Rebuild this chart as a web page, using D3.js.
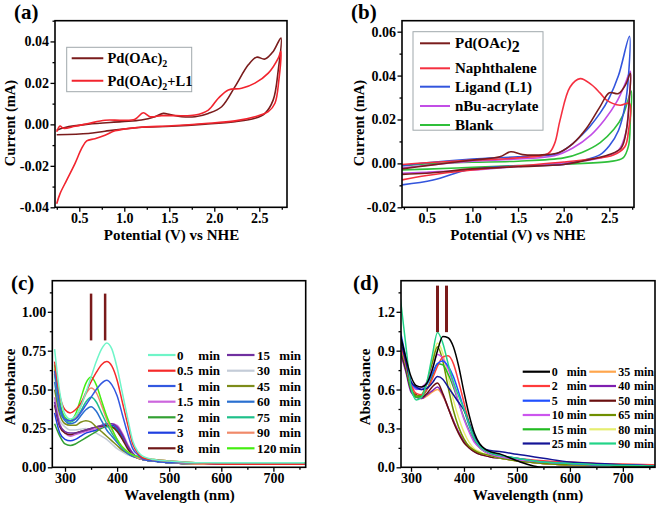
<!DOCTYPE html>
<html><head><meta charset="utf-8">
<script src="https://cdn.jsdelivr.net/npm/d3@7"></script>
<style>
body{margin:0;background:#fff}
svg{display:block}
text{font-family:"Liberation Serif","Times New Roman",serif;font-weight:bold;fill:#000}
</style>
</head><body>
<svg id="chart" width="657" height="508"></svg>
<script>
// ---------- Panel (a): cyclic voltammetry ----------
const aPd = [[0.249,-0.0028],[0.341,-0.0015],[0.6,0.0001],[0.971,0.0013],[1.19,0.0021],[1.341,0.0037],[1.434,0.0053],[1.508,0.0047],[1.637,0.0037],[1.786,0.0037],[1.934,0.0053],[2.082,0.0085],[2.23,0.0182],[2.378,0.0287],[2.47,0.0324],[2.563,0.0315],[2.655,0.0352],[2.74,0.0416],[2.711,0.0263],[2.655,0.0118],[2.563,0.0053],[2.452,0.0029],[2.23,0.0013],[1.897,0.0001],[1.526,-0.0009],[1.156,-0.0015],[0.785,-0.0033],[0.6,-0.0044],[0.249,-0.005]];
const aPdL1 = [[0.249,-0.0036],[0.286,-0.0008],[0.323,-0.0019],[0.453,-0.0009],[0.6,0.0004],[0.786,0.002],[0.971,0.002],[1.119,0.0025],[1.211,0.0056],[1.286,0.0037],[1.415,0.0042],[1.563,0.0042],[1.786,0.0045],[1.934,0.0069],[2.045,0.0126],[2.156,0.0166],[2.304,0.0174],[2.452,0.0199],[2.6,0.0247],[2.711,0.032],[2.74,0.0352],[2.718,0.0215],[2.674,0.0102],[2.6,0.0061],[2.452,0.0037],[2.23,0.0017],[1.897,0.0004],[1.526,-0.0007],[1.156,-0.0015],[0.897,-0.0031],[0.786,-0.0052],[0.674,-0.0069],[0.582,-0.008],[0.526,-0.0116],[0.453,-0.0188],[0.36,-0.0269],[0.286,-0.0334],[0.249,-0.0383]];
const aLabels = ["Pd(OAc)|2|", "Pd(OAc)|2|+L1"];
const aColors = ["#7a1c1c", "#f2242e"];

// ---------- Panel (b): cyclic voltammetry ----------
const bPd = [[0.23,-0.0025],[0.5,-0.001],[1.0,0.0015],[1.3,0.003],[1.42,0.0053],[1.55,0.004],[1.8,0.004],[1.95,0.005],[2.1,0.009],[2.25,0.016],[2.4,0.026],[2.5,0.0322],[2.6,0.0318],[2.68,0.036],[2.73,0.041],[2.72,0.03],[2.69,0.016],[2.63,0.007],[2.5,0.004],[2.2,0.001],[2.0,-0.0005],[1.5,-0.0015],[1.0,-0.0025],[0.5,-0.0045],[0.23,-0.005]];
const bNaph = [[0.23,-0.0005],[0.5,0.0003],[1.0,0.0015],[1.5,0.0025],[1.83,0.0045],[1.9,0.009],[1.96,0.0197],[2.07,0.0348],[2.18,0.0386],[2.3,0.036],[2.4,0.032],[2.47,0.0288],[2.617,0.0265],[2.72,0.0273],[2.71,0.015],[2.67,0.0076],[2.544,0.0038],[2.3,0.002],[2.0,0.0006],[1.5,-0.0012],[1.0,-0.003],[0.5,-0.0055],[0.23,-0.0075]];
const bLig = [[0.23,-0.001],[0.5,0.0003],[1.0,0.002],[1.5,0.003],[1.9,0.0042],[2.0,0.006],[2.1,0.009],[2.2,0.013],[2.28,0.0165],[2.4,0.023],[2.5,0.03],[2.6,0.04],[2.72,0.0579],[2.71,0.04],[2.67,0.026],[2.6,0.015],[2.5,0.008],[2.4,0.004],[2.2,0.0012],[2.0,-0.0005],[1.5,-0.0012],[1.2,-0.0018],[0.94,-0.003],[0.57,-0.0076],[0.23,-0.0098]];
const bAcr = [[0.23,-0.002],[0.6,-0.0005],[1.0,0.001],[1.5,0.002],[1.9,0.0035],[2.1,0.007],[2.3,0.013],[2.45,0.02],[2.58,0.028],[2.67,0.036],[2.73,0.042],[2.715,0.028],[2.68,0.014],[2.6,0.006],[2.4,0.0025],[2.0,0.0002],[1.5,-0.0014],[1.0,-0.003],[0.5,-0.004],[0.23,-0.0045]];
const bBlank = [[0.23,-0.001],[0.6,0],[1.0,0.0005],[1.5,0.001],[2.0,0.0025],[2.2,0.005],[2.4,0.0095],[2.55,0.0155],[2.65,0.022],[2.74,0.033],[2.73,0.02],[2.71,0.008],[2.65,0.0025],[2.5,0.0008],[2.0,-0.0003],[1.5,-0.001],[1.0,-0.0018],[0.5,-0.0026],[0.23,-0.003]];
const bLabels = ["Pd(OAc)2", "Naphthalene", "Ligand (L1)", "nBu-acrylate", "Blank"];
const bColors = ["#7a1c1c", "#f53040", "#3355dd", "#c24ee6", "#2fbf3a"];

// ---------- Panels (c), (d): UV-vis spectra ----------
const wl = [280,290,300,310,320,330,340,350,360,370,380,390,400,410,420,430,440,450,470,500,550,600,650,700,760];

const c0   = [0.76,0.48,0.34,0.31,0.33,0.39,0.48,0.58,0.68,0.76,0.80,0.76,0.64,0.48,0.32,0.17,0.10,0.07,0.05,0.04,0.03,0.03,0.03,0.03,0.03];
const c05  = [0.68,0.46,0.37,0.35,0.37,0.41,0.48,0.55,0.61,0.66,0.68,0.65,0.56,0.42,0.28,0.15,0.09,0.06,0.05,0.04,0.03,0.02,0.02,0.02,0.02];
const c1   = [0.62,0.40,0.31,0.30,0.31,0.35,0.40,0.45,0.50,0.54,0.56,0.53,0.46,0.34,0.22,0.12,0.08,0.05,0.04,0.03,0.03,0.02,0.02,0.02,0.02];
const c15  = [0.45,0.28,0.22,0.20,0.21,0.22,0.23,0.24,0.25,0.26,0.275,0.28,0.27,0.22,0.15,0.09,0.06,0.05,0.04,0.03,0.02,0.02,0.02,0.02,0.02];
const c2   = [0.28,0.20,0.15,0.14,0.15,0.17,0.19,0.21,0.23,0.25,0.26,0.26,0.24,0.19,0.13,0.08,0.06,0.05,0.04,0.03,0.03,0.03,0.03,0.03,0.03];
const c3   = [0.35,0.22,0.18,0.17,0.18,0.20,0.22,0.23,0.24,0.26,0.27,0.27,0.25,0.20,0.14,0.09,0.06,0.05,0.04,0.03,0.02,0.02,0.02,0.02,0.02];
const c8   = [0.40,0.26,0.22,0.21,0.22,0.23,0.24,0.25,0.26,0.265,0.27,0.26,0.23,0.18,0.12,0.08,0.06,0.05,0.04,0.03,0.02,0.02,0.02,0.02,0.02];
const c15m = [0.42,0.27,0.23,0.22,0.22,0.23,0.24,0.25,0.26,0.27,0.28,0.28,0.26,0.21,0.14,0.09,0.06,0.05,0.04,0.03,0.02,0.02,0.02,0.02,0.02];
const c30  = [0.45,0.30,0.26,0.24,0.24,0.245,0.25,0.24,0.22,0.20,0.18,0.15,0.12,0.10,0.08,0.07,0.06,0.05,0.04,0.03,0.02,0.02,0.02,0.02,0.02];
const c45  = [0.50,0.34,0.28,0.27,0.27,0.29,0.30,0.29,0.26,0.23,0.20,0.17,0.14,0.11,0.09,0.07,0.06,0.05,0.04,0.03,0.02,0.02,0.02,0.02,0.02];
const c60  = [0.55,0.36,0.30,0.28,0.29,0.33,0.37,0.39,0.36,0.30,0.24,0.20,0.16,0.12,0.09,0.07,0.06,0.05,0.04,0.03,0.02,0.02,0.02,0.02,0.02];
const c75  = [0.60,0.38,0.31,0.29,0.31,0.36,0.42,0.45,0.42,0.35,0.28,0.22,0.17,0.13,0.10,0.08,0.06,0.05,0.04,0.03,0.02,0.02,0.02,0.02,0.02];
const c90  = [0.63,0.40,0.32,0.30,0.32,0.39,0.47,0.51,0.48,0.40,0.31,0.24,0.18,0.13,0.10,0.08,0.06,0.05,0.04,0.03,0.02,0.02,0.02,0.02,0.02];
const c120 = [0.66,0.42,0.32,0.30,0.34,0.44,0.54,0.58,0.53,0.43,0.33,0.25,0.18,0.13,0.10,0.08,0.07,0.06,0.05,0.04,0.03,0.03,0.03,0.03,0.03];
const cTimes  = ["0","0.5","1","1.5","2","3","8","15","30","45","60","75","90","120"];
const cColors = ["#6ff5c8","#f52a2a","#3358e0","#cc66dd","#33a033","#1f3fe0","#701818","#7030a0","#c4ccd8","#7d8c1a","#2a70d0","#1fc08a","#f08a6a","#44ee11"];

const d0  = [1.02,0.85,0.70,0.63,0.62,0.65,0.75,0.90,1.01,1.00,0.93,0.78,0.58,0.40,0.26,0.18,0.14,0.12,0.10,0.05,0.0,0.0,0.0,0.0,0.0];
const d2  = [0.95,0.80,0.64,0.57,0.56,0.60,0.68,0.78,0.85,0.86,0.80,0.66,0.50,0.34,0.22,0.16,0.13,0.11,0.09,0.07,0.05,0.04,0.03,0.025,0.02];
const d5  = [1.05,0.85,0.66,0.61,0.60,0.64,0.72,0.80,0.82,0.78,0.70,0.58,0.45,0.32,0.22,0.16,0.13,0.11,0.09,0.07,0.04,0.03,0.02,0.02,0.01];
const d10 = [0.95,0.80,0.65,0.60,0.62,0.66,0.76,0.87,0.84,0.76,0.64,0.50,0.37,0.27,0.19,0.15,0.12,0.10,0.08,0.06,0.04,0.03,0.02,0.02,0.015];
const d15 = [0.92,0.78,0.60,0.54,0.55,0.60,0.70,0.80,0.79,0.72,0.62,0.50,0.38,0.28,0.20,0.15,0.12,0.10,0.08,0.06,0.04,0.03,0.02,0.02,0.01];
const d25 = [0.98,0.82,0.66,0.62,0.60,0.61,0.65,0.70,0.68,0.62,0.56,0.50,0.44,0.34,0.24,0.17,0.14,0.13,0.12,0.10,0.07,0.04,0.03,0.02,0.01];
const d35 = [0.90,0.75,0.60,0.55,0.53,0.55,0.58,0.60,0.55,0.46,0.36,0.27,0.21,0.16,0.13,0.11,0.10,0.09,0.07,0.05,0.03,0.02,0.02,0.01,0.01];
const d40 = [0.88,0.74,0.58,0.54,0.53,0.56,0.59,0.62,0.56,0.46,0.36,0.27,0.20,0.15,0.12,0.10,0.09,0.08,0.07,0.05,0.03,0.02,0.02,0.01,0.01];
const d50 = [0.90,0.76,0.60,0.56,0.54,0.57,0.62,0.65,0.57,0.46,0.35,0.26,0.19,0.15,0.12,0.10,0.09,0.08,0.07,0.05,0.03,0.02,0.02,0.01,0.01];
const d65 = [0.95,0.80,0.62,0.55,0.56,0.65,0.80,0.93,0.82,0.62,0.44,0.31,0.22,0.16,0.13,0.11,0.10,0.09,0.07,0.05,0.03,0.02,0.02,0.01,0.01];
const d80 = [0.95,0.80,0.62,0.55,0.56,0.66,0.82,0.96,0.88,0.70,0.52,0.38,0.27,0.19,0.14,0.12,0.10,0.09,0.07,0.05,0.03,0.02,0.02,0.01,0.01];
const d90 = [1.30,0.95,0.62,0.52,0.54,0.66,0.86,1.04,0.96,0.80,0.66,0.55,0.45,0.33,0.22,0.16,0.13,0.11,0.09,0.07,0.04,0.03,0.02,0.015,0.01];
const dTimes  = ["0","2","5","10","15","25","35","40","50","65","80","90"];
const dColors = ["#000000","#ff3b3b","#2050ff","#cc55ee","#22bb22","#141496","#ffa64d","#7f1fb0","#6a0f0f","#6f8f00","#e6ee70","#22d488"];

// marker wavelengths
const cMarks = [350, 377];
const dMarks = [350, 367];

// tick values
const cvXTicks = [0.5,1.0,1.5,2.0,2.5];
const cvXMinor = [0.25,0.75,1.25,1.75,2.25,2.75];
const aYTicks = [-0.04,-0.02,0,0.02,0.04];
const aYMinor = [-0.03,-0.01,0.01,0.03,0.05];
const bYTicks = [-0.02,0,0.02,0.04,0.06];
const bYMinor = [-0.01,0.01,0.03,0.05];
const uvXTicks = [300,400,500,600,700];
const uvXMinor = [350,450,550,650,750];
const cYTicks = [0,0.25,0.5,0.75,1.0];
const cYMinor = [0.125,0.375,0.625,0.875,1.125];
const dYTicks = [0,0.3,0.6,0.9,1.2];
const dYMinor = [0.15,0.45,0.75,1.05,1.35];

// ---------- drawing ----------
const svg = d3.select("#chart");

function makePanel(p){
  const x = d3.scaleLinear().domain(p.xd).range([p.x0, p.x1]);
  const y = d3.scaleLinear().domain(p.yd).range([p.y1, p.y0]);
  svg.append("clipPath").attr("id","clip"+p.name)
    .append("rect").attr("x",p.x0).attr("y",p.y0).attr("width",p.x1-p.x0).attr("height",p.y1-p.y0);
  const g = svg.append("g");
  const style = s => { s.select(".domain").remove(); s.selectAll("line").attr("stroke","#000").attr("stroke-width",1.3); s.attr("font-size",14); };
  g.append("g").attr("transform",`translate(0,${p.y1})`)
    .call(d3.axisBottom(x).tickValues(p.xMinor.filter(v=>v>=p.xd[0]&&v<=p.xd[1])).tickSize(2.5).tickFormat("")).call(style);
  g.append("g").attr("transform",`translate(0,${p.y1})`)
    .call(d3.axisBottom(x).tickValues(p.xTicks).tickSize(4.5).tickPadding(1.5).tickFormat(p.xFmt)).call(style);
  g.append("g").attr("transform",`translate(${p.x0},0)`)
    .call(d3.axisLeft(y).tickValues(p.yMinor.filter(v=>v>=p.yd[0]&&v<=p.yd[1])).tickSize(2.5).tickFormat("")).call(style);
  g.append("g").attr("transform",`translate(${p.x0},0)`)
    .call(d3.axisLeft(y).tickValues(p.yTicks).tickSize(4.5).tickPadding(1.5).tickFormat(p.yFmt)).call(style);
  const plot = g.append("g").attr("clip-path",`url(#clip${p.name})`);
  const over = g.append("g");
  g.append("rect").attr("x",p.x0).attr("y",p.y0).attr("width",p.x1-p.x0).attr("height",p.y1-p.y0)
    .attr("fill","none").attr("stroke","#000").attr("stroke-width",1.6);
  // titles
  g.append("text").attr("x",p.lx).attr("y",p.ly).attr("font-size",21).text(p.label);
  g.append("text").attr("x",(p.xtx)).attr("y",p.xty).attr("text-anchor","middle").attr("font-size",15).text(p.xTitle);
  g.append("text").attr("transform",`translate(${p.ytx},${p.yty}) rotate(-90)`).attr("text-anchor","middle").attr("font-size",p.ytSize||15).text(p.yTitle);
  return {x, y, plot, over, g};
}

const f2 = v => v.toFixed(2), f1 = v => v.toFixed(1), f0 = v => String(v);

// Panel a
const A = makePanel({name:"a", x0:55, x1:287, y0:20.7, y1:207.3, xd:[0.23,2.808], yd:[-0.04,0.05],
  xTicks:cvXTicks, xMinor:cvXMinor, yTicks:aYTicks, yMinor:aYMinor, xFmt:f1, yFmt:f2,
  label:"(a)", lx:14, ly:19, xTitle:"Potential (V) vs NHE", xtx:171.5, xty:240,
  yTitle:"Current (mA)", ytx:15, yty:123, ytSize:14.5});
const cvLine = (P) => d3.line().x(d=>P.x(d[0])).y(d=>P.y(d[1])).curve(d3.curveCatmullRom.alpha(0.5));
[aPd, aPdL1].forEach((s,i)=>{
  A.plot.append("path").attr("d",cvLine(A)(s)).attr("fill","none").attr("stroke",aColors[i]).attr("stroke-width",1.6);
});
// legend a
A.g.append("rect").attr("x",66.7).attr("y",47.3).attr("width",125).attr("height",44.4)
  .attr("fill","#fff").attr("stroke","#a0a8ac").attr("stroke-width",1);
aLabels.forEach((lab,i)=>{
  const yy = 58.3 + i*22.4;
  A.g.append("line").attr("x1",71.7).attr("x2",103.3).attr("y1",yy).attr("y2",yy).attr("stroke",aColors[i]).attr("stroke-width",2);
  const parts = lab.split("|");
  const t = A.g.append("text").attr("x",107.5).attr("y",yy+5).attr("font-size",14.5);
  t.append("tspan").text(parts[0]);
  t.append("tspan").attr("font-size",10).attr("dy",4).text(parts[1]);
  if (parts[2]) t.append("tspan").attr("dy",-4).text(parts[2]);
});

// Panel b
const B = makePanel({name:"b", x0:402, x1:634, y0:20.7, y1:207.3, xd:[0.229,2.77], yd:[-0.02,0.065],
  xTicks:cvXTicks, xMinor:cvXMinor, yTicks:bYTicks, yMinor:bYMinor, xFmt:f1, yFmt:f2,
  label:"(b)", lx:351, ly:19, xTitle:"Potential (V) vs NHE", xtx:518, xty:240,
  yTitle:"Current (mA)", ytx:364, yty:123, ytSize:14.5});
const bSeries = [bBlank, bAcr, bLig, bNaph, bPd];
const bIdx = [4,3,2,1,0];
bSeries.forEach((s,k)=>{
  B.plot.append("path").attr("d",cvLine(B)(s)).attr("fill","none").attr("stroke",bColors[bIdx[k]]).attr("stroke-width",1.6);
});
B.g.append("rect").attr("x",413).attr("y",31.7).attr("width",130).attr("height",98.5)
  .attr("fill","#fff").attr("stroke","#a0a8ac").attr("stroke-width",1);
const bRows = [43.3, 68.3, 86.7, 106, 125];
bLabels.forEach((lab,i)=>{
  const yy = bRows[i];
  B.g.append("line").attr("x1",420).attr("x2",450).attr("y1",yy).attr("y2",yy).attr("stroke",bColors[i]).attr("stroke-width",2);
  const t = B.g.append("text").attr("x",455).attr("y",yy+5).attr("font-size",15);
  if (i===0){ t.append("tspan").text("Pd(OAc)"); t.append("tspan").attr("dy",4).attr("font-size",16).text("2"); }
  else t.text(lab);
});

// Panel c
const C = makePanel({name:"c", x0:52.3, x1:305.7, y0:280.7, y1:467.3, xd:[275.6,762], yd:[0,1.2],
  xTicks:uvXTicks, xMinor:uvXMinor, yTicks:cYTicks, yMinor:cYMinor, xFmt:f0, yFmt:f2,
  label:"(c)", lx:11, ly:290, xTitle:"Wavelength (nm)", xtx:179.5, xty:500,
  yTitle:"Absorbance", ytx:15, yty:387});
const specLine = (P) => d3.line().x(d=>P.x(d[0])).y(d=>P.y(d[1])).curve(d3.curveMonotoneX);
const cSeries = [c0,c05,c1,c15,c2,c3,c8,c15m,c30,c45,c60,c75,c90,c120];
const cOrder = [8,4,5,3,6,7,9,10,11,12,13,2,1,0];
cOrder.forEach(i=>{
  const pts = wl.map((w,j)=>[w,cSeries[i][j]]);
  C.plot.append("path").attr("d",specLine(C)(pts)).attr("fill","none").attr("stroke",cColors[i]).attr("stroke-width",1.5);
});
cMarks.forEach(m=>{
  C.over.append("line").attr("x1",C.x(m)).attr("x2",C.x(m)).attr("y1",C.y(1.117)).attr("y2",C.y(0.816))
    .attr("stroke","#7a1a1a").attr("stroke-width",2.5);
});
const cRows = [355, 370.7, 386, 401.7, 417.3, 432.7, 448.3];
cTimes.forEach((t,i)=>{
  const col = Math.floor(i/7), row = i%7, yy = cRows[row];
  const lx1 = col ? 227 : 148, lx2 = col ? 254.5 : 175.5, nx = col ? 257 : 177, mx = col ? 279.3 : 198.3;
  C.g.append("line").attr("x1",lx1).attr("x2",lx2).attr("y1",yy).attr("y2",yy).attr("stroke",cColors[i]).attr("stroke-width",2.2);
  C.g.append("text").attr("x",nx).attr("y",yy+4.5).attr("font-size",13).text(t);
  C.g.append("text").attr("x",mx).attr("y",yy+4.5).attr("font-size",13).text("min");
});

// Panel d
const D = makePanel({name:"d", x0:401, x1:655, y0:280.7, y1:467.3, xd:[281.1,760.7], yd:[0,1.44],
  xTicks:uvXTicks, xMinor:uvXMinor, yTicks:dYTicks, yMinor:dYMinor, xFmt:f0, yFmt:f1,
  label:"(d)", lx:353, ly:290, xTitle:"Wavelength (nm)", xtx:528, xty:500,
  yTitle:"Absorbance", ytx:370, yty:387});
const dSeries = [d0,d2,d5,d10,d15,d25,d35,d40,d50,d65,d80,d90];
const dOrder = [6,7,8,10,9,4,3,1,2,5,11,0];
dOrder.forEach(i=>{
  const pts = wl.map((w,j)=>[w,dSeries[i][j]]);
  D.plot.append("path").attr("d",specLine(D)(pts)).attr("fill","none").attr("stroke",dColors[i]).attr("stroke-width",1.5);
});
dMarks.forEach(m=>{
  D.over.append("line").attr("x1",D.x(m)).attr("x2",D.x(m)).attr("y1",D.y(1.402)).attr("y2",D.y(1.043))
    .attr("stroke","#7a1a1a").attr("stroke-width",3);
});
const dRows = [371.7, 386, 400.7, 415, 429.3, 443.5];
dTimes.forEach((t,i)=>{
  const col = Math.floor(i/6), row = i%6, yy = dRows[row];
  const lx1 = col ? 589.3 : 522.7, lx2 = col ? 616 : 550, nx = col ? 618.3 : 551.7, mx = col ? 634 : 566.7;
  D.g.append("line").attr("x1",lx1).attr("x2",lx2).attr("y1",yy).attr("y2",yy).attr("stroke",dColors[i]).attr("stroke-width",2.2);
  D.g.append("text").attr("x",nx).attr("y",yy+4.2).attr("font-size",12).text(t);
  D.g.append("text").attr("x",mx).attr("y",yy+4.2).attr("font-size",12).text("min");
});
</script>
</body></html>
